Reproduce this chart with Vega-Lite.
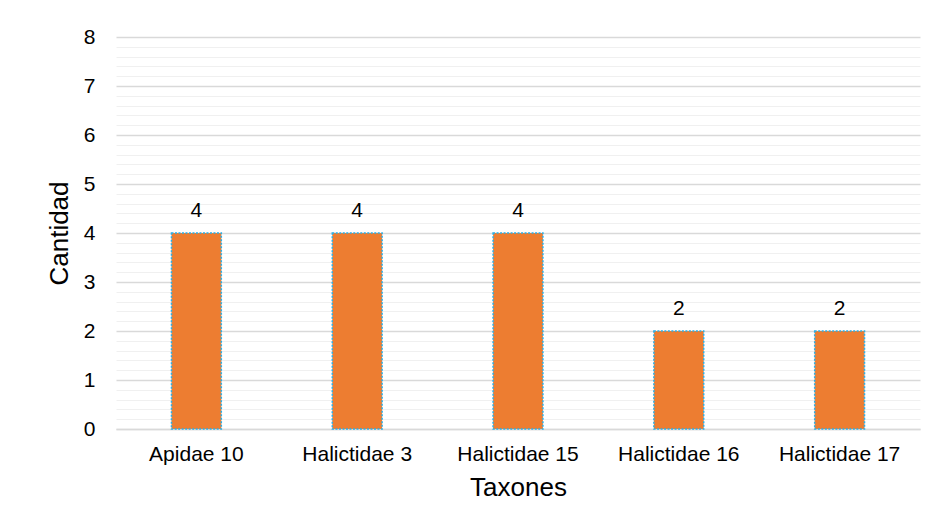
{
  "$schema": "https://vega.github.io/schema/vega-lite/v6.json",
  "autosize": {"type": "none"},
  "width": 804,
  "height": 392,
  "padding": {"left": 116, "top": 37, "right": 20, "bottom": 99},
  "background": "white",
  "config": {
    "font": "Liberation Sans",
    "view": {"stroke": null}
  },
  "data": {
    "values": [
      {"taxon": "Apidae 10", "cantidad": 4},
      {"taxon": "Halictidae 3", "cantidad": 4},
      {"taxon": "Halictidae 15", "cantidad": 4},
      {"taxon": "Halictidae 16", "cantidad": 2},
      {"taxon": "Halictidae 17", "cantidad": 2}
    ]
  },
  "encoding": {
    "x": {
      "field": "taxon",
      "type": "nominal",
      "sort": null,
      "scale": {"paddingInner": 0.69, "paddingOuter": 0.345},
      "axis": {
        "title": "Taxones",
        "titleFontSize": 26,
        "titleFontWeight": "normal",
        "titleColor": "#000000",
        "titlePadding": 10,
        "labelAngle": 0,
        "labelFontSize": 21,
        "labelColor": "#000000",
        "labelPadding": 14,
        "ticks": false,
        "domainColor": "#d9d9d9",
        "domainWidth": 1.5
      }
    }
  },
  "layer": [
    {
      "mark": {"type": "bar", "opacity": 0},
      "encoding": {
        "y": {
          "field": "cantidad",
          "type": "quantitative",
          "scale": {"domain": [0, 8]},
          "axis": {
            "orient": "right",
            "values": [0.2,0.4,0.6,0.8,1.2,1.4,1.6,1.8,2.2,2.4,2.6,2.8,3.2,3.4,3.6,3.8,4.2,4.4,4.6,4.8,5.2,5.4,5.6,5.8,6.2,6.4,6.6,6.8,7.2,7.4,7.6,7.8],
            "labels": false,
            "ticks": false,
            "domain": false,
            "title": null,
            "grid": true,
            "gridColor": "#f0f0f0",
            "gridWidth": 1
          }
        }
      }
    },
    {
      "mark": {
        "type": "bar",
        "fill": "#ED7D31",
        "stroke": "#2AB0E8",
        "strokeWidth": 1.5,
        "strokeDash": [2, 1.5]
      },
      "encoding": {
        "y": {
          "field": "cantidad",
          "type": "quantitative",
          "scale": {"domain": [0, 8]},
          "axis": {
            "orient": "left",
            "values": [0,1,2,3,4,5,6,7,8],
            "title": "Cantidad",
            "titleFontSize": 26,
            "titleFontWeight": "normal",
            "titleColor": "#000000",
            "titlePadding": 11,
            "labelFontSize": 21,
            "labelColor": "#000000",
            "labelPadding": 21,
            "ticks": false,
            "domain": false,
            "grid": true,
            "gridColor": "#d9d9d9",
            "gridWidth": 1.3
          }
        }
      }
    },
    {
      "mark": {"type": "text", "fontSize": 21, "baseline": "alphabetic", "dy": -16, "color": "#000000"},
      "encoding": {
        "y": {"field": "cantidad", "type": "quantitative", "axis": null},
        "text": {"field": "cantidad", "type": "quantitative"}
      }
    }
  ],
  "resolve": {"axis": {"y": "independent"}}
}
